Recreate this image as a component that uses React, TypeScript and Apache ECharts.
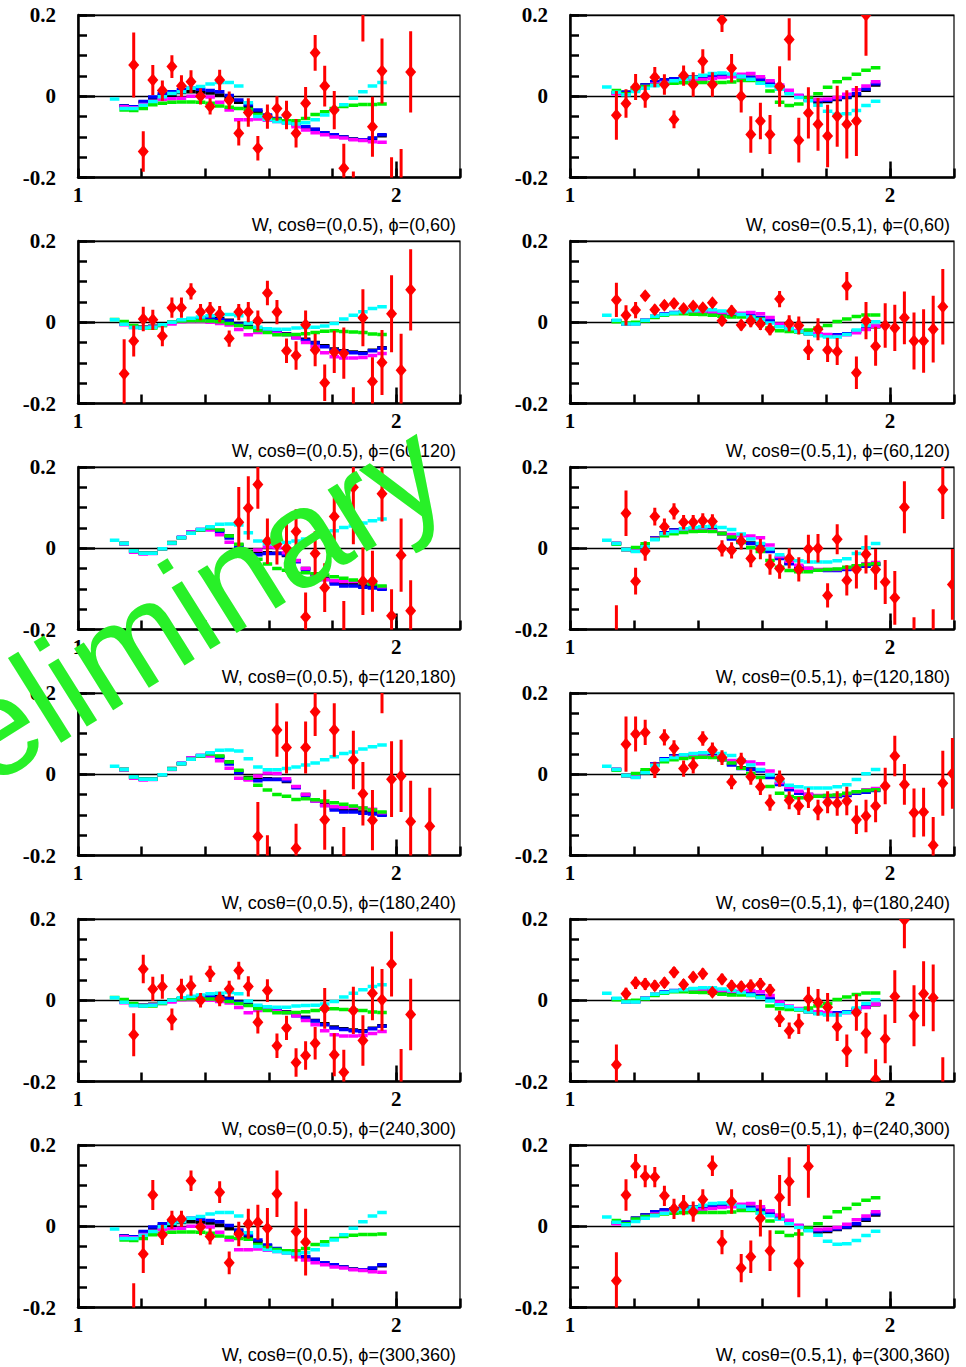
import React, { useEffect, useRef } from 'react';
import * as echarts from 'echarts';

// W bin centres (GeV), shared by data points and model curves
const W_BINS = [1.115, 1.145, 1.175, 1.205, 1.235, 1.265, 1.295, 1.325, 1.355, 1.385, 1.415, 1.445, 1.475, 1.505, 1.535, 1.565, 1.595, 1.625, 1.655, 1.685, 1.715, 1.745, 1.775, 1.805, 1.835, 1.865, 1.895, 1.925, 1.955, 1.985, 2.015, 2.045, 2.075, 2.105, 2.135, 2.165, 2.195];
const HALF_BIN = 0.015;

const COS_BINS = ['(0,0.5)', '(0.5,1)'];
const PHI_BINS = ['(0,60)', '(60,120)', '(120,180)', '(180,240)', '(240,300)', '(300,360)'];
const X_TICK_LABELS = [1, 2];
const Y_TICK_LABELS = [-0.2, 0, 0.2];

// ---- model curves (values per W bin, index = bin) ----
// left column, phi (0,60) & (300,360)
const LA_BLACK = [null, -0.024, -0.026, -0.015, -0.005, 0.002, 0.005, 0.009, 0.011, 0.01, 0.008, 0.003, -0.006, -0.015, -0.027, -0.038, -0.048, -0.057, -0.063, -0.07, -0.076, -0.082, -0.09, -0.095, -0.1, -0.105, -0.107, -0.104, -0.097];
const LA_BLUE = [null, -0.024, -0.026, -0.013, -0.002, 0.006, 0.011, 0.016, 0.02, 0.017, 0.014, 0.011, 0.002, -0.009, -0.021, -0.034, -0.046, -0.055, -0.062, -0.069, -0.075, -0.081, -0.09, -0.095, -0.1, -0.106, -0.107, -0.103, -0.095];
const LA_MAGENTA = [null, -0.026, -0.028, -0.02, -0.012, -0.008, -0.006, -0.005, 0, 0.002, -0.002, -0.015, -0.034, -0.058, -0.058, -0.056, -0.059, -0.062, -0.066, -0.075, -0.083, -0.09, -0.095, -0.1, -0.103, -0.107, -0.109, -0.112, -0.113];
const LA_GREEN = [null, -0.034, -0.035, -0.03, -0.021, -0.017, -0.015, -0.014, -0.014, -0.015, -0.017, -0.024, -0.027, -0.03, -0.032, -0.045, -0.052, -0.057, -0.06, -0.06, -0.055, -0.045, -0.038, -0.03, -0.025, -0.022, -0.02, -0.02, -0.019];
const LA_CYAN = [-0.007, -0.03, -0.03, -0.022, -0.013, -0.001, 0.007, 0.011, 0.02, 0.024, 0.03, 0.034, 0.034, 0.025, -0.016, -0.05, -0.057, -0.062, -0.066, -0.068, -0.065, -0.058, -0.046, -0.034, -0.021, -0.005, 0.011, 0.025, 0.034];
// left column, phi (60,120) & (240,300)
const LB_BLACK = [null, -0.004, -0.011, -0.012, -0.01, -0.005, 0.0, 0.004, 0.007, 0.009, 0.011, 0.009, 0.005, -0.003, -0.01, -0.016, -0.02, -0.024, -0.028, -0.036, -0.042, -0.05, -0.058, -0.066, -0.07, -0.073, -0.075, -0.069, -0.063];
const LB_BLUE = [null, -0.005, -0.012, -0.013, -0.011, -0.006, -0.001, 0.003, 0.006, 0.008, 0.009, 0.007, 0.003, -0.005, -0.012, -0.018, -0.022, -0.026, -0.03, -0.038, -0.044, -0.051, -0.06, -0.068, -0.072, -0.075, -0.077, -0.07, -0.064];
const LB_MAGENTA = [null, -0.006, -0.013, -0.014, -0.012, -0.008, -0.004, 0.001, 0.002, 0.002, 0, -0.003, -0.007, -0.018, -0.031, -0.025, -0.024, -0.027, -0.03, -0.038, -0.05, -0.06, -0.075, -0.085, -0.088, -0.088, -0.087, -0.082, -0.077];
const LB_GREEN = [0.007, 0.002, -0.008, -0.014, -0.014, -0.008, 0, 0.003, 0.004, 0.004, 0.003, 0.001, -0.003, -0.008, -0.013, -0.02, -0.025, -0.031, -0.031, -0.03, -0.028, -0.025, -0.022, -0.021, -0.023, -0.024, -0.025, -0.029, -0.03];
const LB_CYAN = [0.006, -0.005, -0.013, -0.014, -0.012, -0.006, 0, 0.006, 0.01, 0.013, 0.016, 0.017, 0.019, 0.016, -0.002, -0.012, -0.016, -0.017, -0.017, -0.014, -0.013, -0.012, -0.009, -0.003, 0.008, 0.017, 0.026, 0.034, 0.038];
// left column, phi (120,180) & (180,240)
const LC_BLACK = [null, 0.012, -0.007, -0.012, -0.012, -0.001, 0.014, 0.026, 0.037, 0.045, 0.05, 0.044, 0.03, 0.008, -0.008, -0.012, -0.011, -0.012, -0.018, -0.031, -0.05, -0.064, -0.074, -0.083, -0.089, -0.09, -0.093, -0.095, -0.099];
const LC_BLUE = [null, 0.012, -0.007, -0.012, -0.012, -0.001, 0.013, 0.027, 0.04, 0.046, 0.048, 0.04, 0.025, 0.004, -0.012, -0.016, -0.013, -0.013, -0.016, -0.033, -0.052, -0.066, -0.077, -0.088, -0.093, -0.093, -0.096, -0.098, -0.101];
const LC_MAGENTA = [null, 0.01, -0.01, -0.014, -0.013, -0.002, 0.012, 0.026, 0.04, 0.046, 0.045, 0.033, 0.015, -0.01, -0.014, -0.004, 0.003, 0.002, -0.011, -0.03, -0.05, -0.066, -0.077, -0.08, -0.082, -0.082, -0.083, -0.086, -0.095];
const LC_GREEN = [null, 0.012, -0.007, -0.012, -0.012, -0.001, 0.013, 0.026, 0.037, 0.045, 0.05, 0.045, 0.03, 0.01, -0.01, -0.027, -0.039, -0.05, -0.054, -0.062, -0.06, -0.063, -0.066, -0.07, -0.074, -0.078, -0.083, -0.088, -0.093];
const LC_CYAN = [0.02, 0.012, -0.007, -0.012, -0.012, -0.001, 0.013, 0.026, 0.037, 0.046, 0.053, 0.059, 0.06, 0.057, 0.038, 0.018, 0.011, 0.011, 0.014, 0.018, 0.023, 0.028, 0.036, 0.043, 0.051, 0.055, 0.062, 0.068, 0.072];
// right column, phi (0,60) & (300,360)
const RA_BLACK = [null, 0.008, 0.01, 0.02, 0.028, 0.036, 0.04, 0.043, 0.046, 0.047, 0.048, 0.049, 0.05, 0.05, 0.05, 0.047, 0.043, 0.034, 0.024, 0.012, 0.0, -0.009, -0.014, -0.013, -0.008, -0.003, 0.004, 0.015, 0.028];
const RA_BLUE = [null, 0.008, 0.01, 0.02, 0.028, 0.036, 0.04, 0.043, 0.046, 0.047, 0.048, 0.049, 0.049, 0.049, 0.048, 0.046, 0.041, 0.031, 0.022, 0.013, 0.002, -0.007, -0.011, -0.01, -0.006, -0.002, 0.006, 0.018, 0.031];
const RA_MAGENTA = [null, 0.006, 0.006, 0.016, 0.024, 0.03, 0.034, 0.036, 0.037, 0.038, 0.041, 0.044, 0.046, 0.048, 0.054, 0.056, 0.048, 0.038, 0.028, 0.015, 0.002, -0.006, -0.008, -0.007, -0.003, 0.005, 0.016, 0.025, 0.036];
const RA_GREEN = [null, 0.014, 0.006, 0.018, 0.024, 0.027, 0.03, 0.032, 0.033, 0.034, 0.034, 0.034, 0.034, 0.035, 0.039, 0.039, 0.033, 0.013, -0.015, -0.023, -0.019, -0.004, 0.006, 0.022, 0.036, 0.044, 0.054, 0.064, 0.07];
const RA_CYAN = [0.023, 0.01, 0.004, 0.012, 0.02, 0.026, 0.032, 0.038, 0.042, 0.046, 0.052, 0.056, 0.057, 0.055, 0.049, 0.042, 0.032, 0.026, 0.017, 0.006, -0.003, -0.011, -0.022, -0.037, -0.044, -0.043, -0.035, -0.023, -0.012];
// right column, phi (60,120) & (240,300)
const RB_BLACK = [null, 0.004, -0.004, -0.003, 0.005, 0.014, 0.02, 0.023, 0.025, 0.026, 0.026, 0.025, 0.023, 0.02, 0.018, 0.015, 0.01, 0.002, -0.01, -0.018, -0.023, -0.028, -0.032, -0.033, -0.032, -0.029, -0.023, -0.017, -0.011];
const RB_BLUE = [null, 0.004, -0.004, -0.003, 0.005, 0.014, 0.021, 0.024, 0.026, 0.027, 0.027, 0.026, 0.024, 0.021, 0.019, 0.016, 0.012, 0.004, -0.008, -0.016, -0.021, -0.026, -0.03, -0.032, -0.031, -0.028, -0.022, -0.016, -0.01];
const RB_MAGENTA = [null, 0.004, -0.004, -0.003, 0.005, 0.013, 0.019, 0.022, 0.024, 0.025, 0.025, 0.025, 0.024, 0.022, 0.022, 0.024, 0.021, 0.012, -0.004, -0.014, -0.02, -0.025, -0.028, -0.03, -0.035, -0.031, -0.026, -0.018, -0.01];
const RB_GREEN = [null, 0.001, -0.002, 0.0, 0.003, 0.012, 0.017, 0.021, 0.021, 0.02, 0.019, 0.017, 0.015, 0.013, 0.013, 0.012, 0.008, -0.014, -0.021, -0.023, -0.024, -0.019, -0.014, -0.008, 0.002, 0.008, 0.014, 0.018, 0.018];
const RB_CYAN = [0.017, 0.005, -0.004, -0.004, 0.005, 0.015, 0.019, 0.023, 0.026, 0.029, 0.031, 0.031, 0.028, 0.024, 0.019, 0.013, 0.006, -0.002, -0.011, -0.016, -0.023, -0.028, -0.033, -0.036, -0.036, -0.03, -0.019, -0.008, 0.001];
// right column, phi (120,180) & (180,240)
const RC_BLACK = [null, 0.012, -0.003, -0.006, 0.006, 0.025, 0.038, 0.045, 0.046, 0.046, 0.046, 0.045, 0.037, 0.025, 0.016, 0.013, 0.01, -0.006, -0.023, -0.037, -0.046, -0.05, -0.053, -0.054, -0.054, -0.051, -0.046, -0.043, -0.039];
const RC_BLUE = [null, 0.012, -0.003, -0.006, 0.006, 0.025, 0.038, 0.045, 0.046, 0.046, 0.046, 0.045, 0.036, 0.023, 0.014, 0.012, 0.008, -0.008, -0.025, -0.038, -0.047, -0.051, -0.054, -0.055, -0.055, -0.052, -0.047, -0.044, -0.04];
const RC_MAGENTA = [null, 0.012, -0.003, -0.006, 0.006, 0.024, 0.036, 0.042, 0.044, 0.045, 0.045, 0.043, 0.035, 0.034, 0.031, 0.03, 0.026, 0.008, -0.02, -0.032, -0.042, -0.049, -0.052, -0.052, -0.052, -0.048, -0.043, -0.038, -0.035];
const RC_GREEN = [null, 0.01, -0.003, 0.002, 0.011, 0.022, 0.031, 0.036, 0.039, 0.041, 0.042, 0.041, 0.036, 0.028, 0.015, 0.002, -0.008, -0.03, -0.047, -0.055, -0.058, -0.058, -0.054, -0.052, -0.051, -0.047, -0.043, -0.04, -0.038];
const RC_CYAN = [0.02, 0.012, -0.003, -0.008, 0.004, 0.021, 0.036, 0.041, 0.048, 0.051, 0.053, 0.054, 0.051, 0.046, 0.035, 0.023, 0.012, -0.002, -0.016, -0.027, -0.031, -0.034, -0.034, -0.034, -0.031, -0.026, -0.013, 0.001, 0.012];

// ---- measured points: [W, value, error] ----
const PTS_L1 = [[1.175, 0.077, 0.08], [1.205, -0.136, 0.05], [1.235, 0.04, 0.037], [1.265, 0.014, 0.025], [1.295, 0.073, 0.028], [1.325, 0.025, 0.027], [1.355, 0.036, 0.028], [1.385, 0.0, 0.02], [1.415, -0.025, 0.02], [1.445, 0.04, 0.025], [1.475, -0.01, 0.022], [1.505, -0.091, 0.03], [1.535, -0.04, 0.035], [1.565, -0.128, 0.03], [1.595, -0.05, 0.03], [1.625, -0.03, 0.03], [1.655, -0.046, 0.035], [1.685, -0.091, 0.035], [1.715, -0.017, 0.04], [1.745, 0.107, 0.044], [1.775, 0.025, 0.05], [1.805, -0.034, 0.047], [1.835, -0.177, 0.06], [1.865, -0.26, 0.075], [1.895, 0.23, 0.095], [1.925, -0.075, 0.074], [1.955, 0.062, 0.08], [1.985, -0.27, 0.12], [2.015, -0.28, 0.15], [2.045, 0.06, 0.1]];
const PTS_L2 = [[1.145, -0.127, 0.085], [1.175, -0.046, 0.038], [1.205, 0.008, 0.03], [1.235, 0.006, 0.025], [1.265, -0.034, 0.025], [1.295, 0.036, 0.025], [1.325, 0.036, 0.025], [1.355, 0.076, 0.02], [1.385, 0.025, 0.02], [1.415, 0.03, 0.02], [1.445, 0.02, 0.02], [1.475, -0.04, 0.02], [1.505, 0.025, 0.02], [1.535, 0.025, 0.025], [1.565, 0.004, 0.025], [1.595, 0.072, 0.03], [1.625, 0.025, 0.03], [1.655, -0.07, 0.03], [1.685, -0.082, 0.035], [1.715, -0.006, 0.035], [1.745, -0.068, 0.04], [1.775, -0.149, 0.045], [1.805, -0.073, 0.052], [1.835, -0.076, 0.063], [1.865, -0.26, 0.1], [1.895, 0.011, 0.07], [1.925, -0.146, 0.06], [1.955, -0.099, 0.08], [1.985, 0.021, 0.095], [2.015, -0.118, 0.09], [2.045, 0.08, 0.1]];
const PTS_L3 = [[1.505, 0.064, 0.087], [1.535, 0.099, 0.078], [1.565, 0.157, 0.06], [1.595, 0.017, 0.056], [1.625, 0.01, 0.05], [1.655, 0.0, 0.06], [1.685, 0.041, 0.055], [1.715, -0.169, 0.06], [1.745, -0.013, 0.055], [1.775, -0.097, 0.06], [1.805, 0.078, 0.062], [1.835, -0.21, 0.08], [1.865, 0.15, 0.14], [1.895, -0.081, 0.083], [1.925, -0.081, 0.075], [1.955, 0.134, 0.068], [1.985, -0.166, 0.065], [2.015, -0.017, 0.09], [2.045, -0.154, 0.075]];
const PTS_L4 = [[1.565, -0.153, 0.085], [1.595, -0.22, 0.07], [1.625, 0.109, 0.066], [1.655, 0.066, 0.064], [1.685, -0.182, 0.06], [1.715, 0.066, 0.064], [1.745, 0.154, 0.06], [1.775, -0.112, 0.074], [1.805, 0.109, 0.066], [1.835, -0.21, 0.08], [1.865, 0.035, 0.072], [1.895, -0.048, 0.078], [1.925, -0.113, 0.074], [1.955, 0.23, 0.08], [1.985, -0.012, 0.093], [2.015, -0.004, 0.089], [2.045, -0.116, 0.1], [2.105, -0.128, 0.095]];
const PTS_L5 = [[1.175, -0.085, 0.053], [1.205, 0.077, 0.035], [1.235, 0.028, 0.03], [1.265, 0.034, 0.03], [1.295, -0.047, 0.027], [1.325, 0.028, 0.025], [1.355, 0.036, 0.025], [1.385, 0.0, 0.018], [1.415, 0.065, 0.02], [1.445, 0.003, 0.018], [1.475, 0.028, 0.02], [1.505, 0.073, 0.022], [1.535, 0.034, 0.025], [1.565, -0.054, 0.028], [1.595, 0.024, 0.028], [1.625, -0.112, 0.03], [1.655, -0.068, 0.03], [1.685, -0.153, 0.035], [1.715, -0.136, 0.035], [1.745, -0.106, 0.04], [1.775, -0.02, 0.05], [1.805, -0.134, 0.053], [1.835, -0.177, 0.055], [1.865, -0.025, 0.058], [1.895, -0.099, 0.062], [1.925, 0.017, 0.066], [1.955, 0.001, 0.076], [1.985, 0.089, 0.08], [2.015, -0.22, 0.1], [2.045, -0.035, 0.088]];
const PTS_L6 = [[1.175, -0.24, 0.1], [1.205, -0.068, 0.047], [1.235, 0.077, 0.037], [1.265, -0.021, 0.025], [1.295, 0.016, 0.022], [1.325, 0.018, 0.02], [1.355, 0.112, 0.025], [1.385, -0.002, 0.02], [1.415, -0.025, 0.02], [1.445, 0.084, 0.027], [1.475, -0.09, 0.028], [1.505, -0.019, 0.03], [1.535, 0.006, 0.037], [1.565, 0.01, 0.043], [1.595, -0.005, 0.05], [1.625, 0.08, 0.057], [1.685, -0.013, 0.074], [1.715, -0.039, 0.082]];
const PTS_R1 = [[1.145, -0.047, 0.06], [1.175, -0.018, 0.035], [1.205, 0.023, 0.032], [1.235, 0.0, 0.028], [1.265, 0.047, 0.025], [1.295, 0.029, 0.025], [1.325, -0.057, 0.022], [1.355, 0.051, 0.025], [1.385, 0.029, 0.03], [1.415, 0.086, 0.03], [1.445, 0.029, 0.03], [1.475, 0.188, 0.03], [1.505, 0.069, 0.035], [1.535, 0.0, 0.04], [1.565, -0.094, 0.045], [1.595, -0.061, 0.045], [1.625, -0.094, 0.048], [1.655, 0.024, 0.05], [1.685, 0.14, 0.052], [1.715, -0.108, 0.055], [1.745, -0.041, 0.063], [1.775, -0.069, 0.065], [1.805, -0.098, 0.077], [1.835, -0.049, 0.075], [1.865, -0.069, 0.084], [1.895, -0.061, 0.086], [1.925, 0.2, 0.1]];
const PTS_R2 = [[1.145, 0.055, 0.042], [1.175, 0.017, 0.025], [1.205, 0.03, 0.02], [1.235, 0.065, 0.012], [1.265, 0.031, 0.012], [1.295, 0.042, 0.012], [1.325, 0.046, 0.012], [1.355, 0.034, 0.01], [1.385, 0.04, 0.01], [1.415, 0.036, 0.01], [1.445, 0.048, 0.012], [1.475, 0.004, 0.012], [1.505, 0.028, 0.013], [1.535, -0.007, 0.013], [1.565, 0.003, 0.015], [1.595, -0.004, 0.015], [1.625, -0.017, 0.015], [1.655, 0.057, 0.02], [1.685, -0.003, 0.02], [1.715, -0.008, 0.022], [1.745, -0.068, 0.025], [1.775, -0.017, 0.027], [1.805, -0.068, 0.03], [1.835, -0.072, 0.033], [1.865, 0.089, 0.035], [1.895, -0.124, 0.04], [1.925, 0.004, 0.046], [1.955, -0.059, 0.048], [1.985, -0.008, 0.055], [2.015, -0.014, 0.057], [2.045, 0.011, 0.065], [2.075, -0.046, 0.07], [2.105, -0.046, 0.078], [2.135, -0.017, 0.082], [2.165, 0.038, 0.093]];
const PTS_R3 = [[1.145, -0.24, 0.1], [1.175, 0.086, 0.056], [1.205, -0.081, 0.033], [1.235, -0.007, 0.024], [1.265, 0.078, 0.022], [1.295, 0.053, 0.02], [1.325, 0.091, 0.02], [1.355, 0.064, 0.018], [1.385, 0.064, 0.018], [1.415, 0.068, 0.018], [1.445, 0.066, 0.018], [1.475, 0.0, 0.02], [1.505, -0.005, 0.02], [1.535, 0.017, 0.02], [1.565, -0.025, 0.022], [1.595, -0.002, 0.025], [1.625, -0.04, 0.025], [1.655, -0.05, 0.025], [1.685, -0.025, 0.025], [1.715, -0.052, 0.03], [1.745, -0.002, 0.035], [1.775, 0.0, 0.035], [1.805, -0.116, 0.03], [1.835, 0.022, 0.037], [1.865, -0.079, 0.037], [1.895, -0.052, 0.047], [1.925, -0.015, 0.047], [1.955, -0.052, 0.05], [1.985, -0.083, 0.054], [2.015, -0.122, 0.066], [2.045, 0.101, 0.064], [2.075, -0.25, 0.08], [2.135, -0.24, 0.09], [2.165, 0.144, 0.072], [2.195, -0.089, 0.087]];
const PTS_R4 = [[1.175, 0.074, 0.068], [1.205, 0.099, 0.043], [1.235, 0.103, 0.031], [1.265, 0.011, 0.02], [1.295, 0.091, 0.02], [1.325, 0.064, 0.02], [1.355, 0.014, 0.02], [1.385, 0.022, 0.02], [1.415, 0.088, 0.018], [1.445, 0.06, 0.018], [1.475, 0.041, 0.018], [1.505, -0.019, 0.018], [1.535, 0.033, 0.02], [1.565, -0.006, 0.02], [1.595, -0.031, 0.02], [1.625, -0.07, 0.02], [1.655, -0.011, 0.02], [1.685, -0.064, 0.022], [1.715, -0.078, 0.022], [1.745, -0.058, 0.025], [1.775, -0.088, 0.025], [1.805, -0.069, 0.027], [1.835, -0.072, 0.03], [1.865, -0.066, 0.035], [1.895, -0.112, 0.035], [1.925, -0.103, 0.04], [1.955, -0.078, 0.04], [1.985, -0.029, 0.045], [2.015, 0.045, 0.05], [2.045, -0.025, 0.05], [2.075, -0.095, 0.06], [2.105, -0.093, 0.06], [2.135, -0.175, 0.07], [2.165, -0.022, 0.08], [2.195, 0.002, 0.087]];
const PTS_R5 = [[1.145, -0.159, 0.05], [1.175, 0.016, 0.015], [1.205, 0.043, 0.015], [1.235, 0.04, 0.015], [1.265, 0.036, 0.013], [1.295, 0.043, 0.013], [1.325, 0.069, 0.013], [1.355, 0.039, 0.013], [1.385, 0.057, 0.013], [1.415, 0.065, 0.013], [1.445, 0.02, 0.012], [1.475, 0.052, 0.013], [1.505, 0.036, 0.013], [1.535, 0.034, 0.013], [1.565, 0.036, 0.015], [1.595, 0.04, 0.015], [1.625, 0.025, 0.015], [1.655, -0.046, 0.02], [1.685, -0.075, 0.02], [1.715, -0.058, 0.025], [1.745, 0.003, 0.03], [1.775, -0.005, 0.033], [1.805, -0.017, 0.035], [1.835, -0.065, 0.035], [1.865, -0.124, 0.04], [1.895, -0.03, 0.045], [1.925, -0.081, 0.05], [1.955, -0.195, 0.05], [1.985, -0.095, 0.06], [2.015, 0.009, 0.065], [2.045, 0.198, 0.07], [2.075, -0.038, 0.075], [2.105, 0.016, 0.08], [2.135, 0.006, 0.082], [2.165, -0.23, 0.09]];
const PTS_R6 = [[1.145, -0.134, 0.07], [1.175, 0.077, 0.039], [1.205, 0.148, 0.03], [1.235, 0.123, 0.027], [1.265, 0.121, 0.025], [1.295, 0.075, 0.025], [1.325, 0.043, 0.025], [1.355, 0.052, 0.025], [1.385, 0.036, 0.025], [1.415, 0.066, 0.025], [1.445, 0.149, 0.025], [1.475, -0.039, 0.03], [1.505, 0.061, 0.03], [1.535, -0.103, 0.035], [1.565, -0.075, 0.04], [1.595, 0.02, 0.045], [1.625, -0.06, 0.05], [1.655, 0.071, 0.055], [1.685, 0.11, 0.06], [1.715, -0.091, 0.084], [1.745, 0.148, 0.078]];

const CURVE_COLORS = ['#000000', '#0000ff', '#ff00ff', '#00ee00', '#00ffff'];
const LA = [LA_BLACK, LA_BLUE, LA_MAGENTA, LA_GREEN, LA_CYAN];
const LB = [LB_BLACK, LB_BLUE, LB_MAGENTA, LB_GREEN, LB_CYAN];
const LC = [LC_BLACK, LC_BLUE, LC_MAGENTA, LC_GREEN, LC_CYAN];
const RA = [RA_BLACK, RA_BLUE, RA_MAGENTA, RA_GREEN, RA_CYAN];
const RB = [RB_BLACK, RB_BLUE, RB_MAGENTA, RB_GREEN, RB_CYAN];
const RC = [RC_BLACK, RC_BLUE, RC_MAGENTA, RC_GREEN, RC_CYAN];

const LEFT_PTS = [PTS_L1, PTS_L2, PTS_L3, PTS_L4, PTS_L5, PTS_L6];
const RIGHT_PTS = [PTS_R1, PTS_R2, PTS_R3, PTS_R4, PTS_R5, PTS_R6];
const LEFT_CURVES = [LA, LB, LC, LC, LB, LA];
const RIGHT_CURVES = [RA, RB, RC, RC, RB, RA];

// layout
const COL_LEFT = [78, 570];
const COL_WIDTH = [382, 384];
const ROW_TOP = [15, 241, 467, 693, 919, 1145];
const PANEL_H = 162.5;

const near = (a: number, b: number) => Math.abs(a - b) < 1e-6;
const fmtX = (v: number) => {
  const hit = X_TICK_LABELS.find((t) => near(v, t));
  return hit === undefined ? '' : String(hit);
};
const fmtY = (v: number) => {
  const hit = Y_TICK_LABELS.find((t) => near(v, t));
  if (hit === undefined) return '';
  return hit === 0 ? '0' : hit.toFixed(1);
};

function buildOption() {
  const grid: any[] = [];
  const xAxis: any[] = [];
  const yAxis: any[] = [];
  const series: any[] = [];
  const graphic: any[] = [];
  const labelFont = { fontFamily: '"Liberation Serif", serif', fontSize: 21, fontWeight: 'bold', color: '#000' };

  for (let r = 0; r < 6; r++) {
    for (let c = 0; c < 2; c++) {
      const gi = grid.length;
      grid.push({
        left: COL_LEFT[c], top: ROW_TOP[r], width: COL_WIDTH[c], height: PANEL_H,
        show: true, borderColor: '#000', borderWidth: 1.2, backgroundColor: 'transparent',
      });
      xAxis.push({
        gridIndex: gi, type: 'value', min: 1, max: 2.2, interval: 0.2, position: 'bottom',
        axisLine: { show: true, onZero: false, lineStyle: { color: '#000', width: 2.5 } },
        axisTick: { show: true, inside: true, length: 9, lineStyle: { color: '#000', width: 2.5 } },
        axisLabel: { show: true, margin: 7, formatter: fmtX, ...labelFont },
        splitLine: { show: false },
      });
      xAxis.push({
        gridIndex: gi, type: 'value', min: 1, max: 2.2, position: 'bottom',
        axisLine: { show: false, onZero: false },
        axisTick: { show: true, inside: true, length: 16, customValues: [2], lineStyle: { color: '#000', width: 2.5 } },
        axisLabel: { show: false },
        splitLine: { show: false },
      });
      yAxis.push({
        gridIndex: gi, type: 'value', min: -0.2, max: 0.2, interval: 0.05, position: 'left',
        axisLine: { show: true, onZero: false, lineStyle: { color: '#000', width: 2.5 } },
        axisTick: { show: true, inside: true, length: 9, lineStyle: { color: '#000', width: 2.5 } },
        axisLabel: { show: true, margin: 22, formatter: fmtY, ...labelFont },
        splitLine: { show: false },
      });
      yAxis.push({
        gridIndex: gi, type: 'value', min: -0.2, max: 0.2, interval: 0.2, position: 'left',
        axisLine: { show: false, onZero: false },
        axisTick: { show: true, inside: true, length: 17, lineStyle: { color: '#000', width: 2.5 } },
        axisLabel: { show: false },
        splitLine: { show: true, lineStyle: { color: '#000', width: 1.3 } },
      });

      const curves = c === 0 ? LEFT_CURVES[r] : RIGHT_CURVES[r];
      const pts = c === 0 ? LEFT_PTS[r] : RIGHT_PTS[r];

      curves.forEach((arr, ci) => {
        const data: number[][] = [];
        arr.forEach((v, k) => {
          if (v !== null && v !== undefined) data.push([W_BINS[k], v as number]);
        });
        const color = CURVE_COLORS[ci];
        series.push({
          type: 'custom', xAxisIndex: gi * 2, yAxisIndex: gi * 2, clip: true, silent: true,
          encode: { x: 0, y: 1 }, data, z: 2 + ci,
          renderItem: (params: any, api: any) => {
            const x = api.value(0);
            const y = api.value(1);
            const p1 = api.coord([x - HALF_BIN, y]);
            const p2 = api.coord([x + HALF_BIN, y]);
            return {
              type: 'line',
              shape: { x1: p1[0], y1: p1[1], x2: p2[0], y2: p2[1] },
              style: { stroke: color, lineWidth: 3.5 },
            };
          },
        });
      });

      series.push({
        type: 'custom', xAxisIndex: gi * 2, yAxisIndex: gi * 2, clip: true, silent: true,
        encode: { x: 0, y: 1 }, data: pts, z: 10,
        renderItem: (params: any, api: any) => {
          const x = api.value(0);
          const y = api.value(1);
          const e = api.value(2);
          const cpt = api.coord([x, y]);
          const top = api.coord([x, y + e]);
          const bot = api.coord([x, y - e]);
          return {
            type: 'group',
            children: [
              { type: 'line', shape: { x1: cpt[0], y1: top[1], x2: cpt[0], y2: bot[1] }, style: { stroke: '#ff0000', lineWidth: 3 } },
              {
                type: 'polygon',
                shape: { points: [[cpt[0], cpt[1] - 6.5], [cpt[0] + 5.5, cpt[1]], [cpt[0], cpt[1] + 6.5], [cpt[0] - 5.5, cpt[1]]] },
                style: { fill: '#ff0000' },
              },
            ],
          };
        },
      });

      graphic.push({
        type: 'text', z: 50,
        x: COL_LEFT[c] + COL_WIDTH[c] - 4, y: ROW_TOP[r] + PANEL_H + 47,
        style: {
          text: `W, cosθ=${COS_BINS[c]}, ϕ=${PHI_BINS[r]}`,
          fill: '#000', fontSize: 18, fontFamily: '"Liberation Sans", sans-serif',
          align: 'right', verticalAlign: 'middle', textAlign: 'right', textVerticalAlign: 'middle',
        },
      });
    }
  }

  graphic.push({
    type: 'text', z: 100,
    x: 138, y: 638, rotation: 0.56,
    style: {
      text: 'Preliminary', fill: '#28f028', fontSize: 138, fontFamily: '"Liberation Sans", sans-serif',
      align: 'center', verticalAlign: 'middle', textAlign: 'center', textVerticalAlign: 'middle',
    },
  });

  return {
    animation: false,
    backgroundColor: '#ffffff',
    grid, xAxis, yAxis, series, graphic,
  };
}

export default function App() {
  const ref = useRef<HTMLDivElement>(null);
  useEffect(() => {
    const chart = echarts.init(ref.current as HTMLDivElement, null, { renderer: 'svg' });
    chart.setOption(buildOption() as any);
    return () => chart.dispose();
  }, []);
  return (
    <div
      ref={ref}
      style={{ position: 'absolute', left: 0, top: 0, width: 966, height: 1367, background: '#fff' }}
    />
  );
}
